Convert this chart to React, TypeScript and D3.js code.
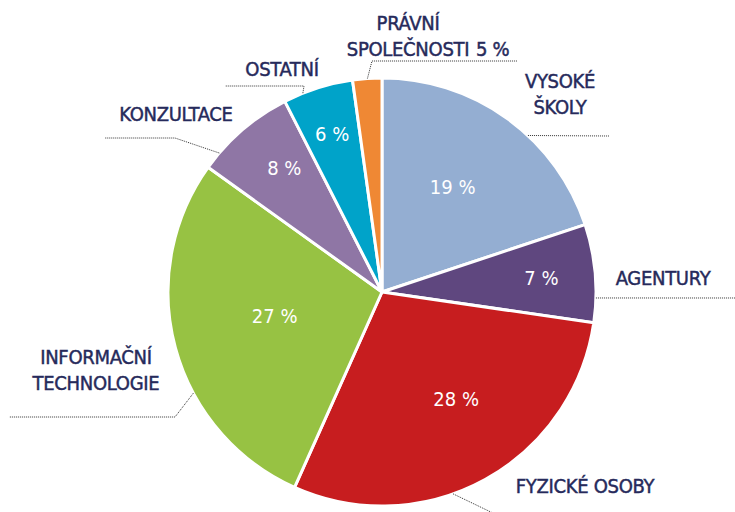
import React from "react";
import * as d3 from "d3";

const categories = ["VYSOKÉ ŠKOLY", "AGENTURY", "FYZICKÉ OSOBY", "INFORMAČNÍ TECHNOLOGIE", "KONZULTACE", "OSTATNÍ", "PRÁVNÍ SPOLEČNOSTI"];
const values = [19.9, 7.4, 29.4, 28.2, 7.6, 5.3, 2.2];
const percentLabels = ["19 %", "7 %", "28 %", "27 %", "8 %", "6 %", "5 %"];
const colors = ["#94aed2", "#5f477f", "#c71d1f", "#97c243", "#8f76a5", "#00a3c9", "#ef8834"];

const W = 735, H = 512;
const cx = 382, cy = 292, R = 214;
const FONT = "'Liberation Sans Narrow', 'DejaVu Sans Condensed', 'Roboto', sans-serif";
const NAVY = "#262a5b";

// inner % label placement: [radius, angle offset deg]
const inLabel: [number, number][] = [[127, -2], [160, 0], [130, -6], [110, 2.5], [158, 2.5], [166, 0], [0, 0]];

// outer labels: lines of text, anchor x, first baseline y
const outer = [
  { lines: ["VYSOKÉ", "ŠKOLY"], x: 560, y: 88 },
  { lines: ["AGENTURY"], x: 663, y: 285 },
  { lines: ["FYZICKÉ OSOBY"], x: 585, y: 493 },
  { lines: ["INFORMAČNÍ", "TECHNOLOGIE"], x: 96, y: 364 },
  { lines: ["KONZULTACE"], x: 176, y: 121 },
  { lines: ["OSTATNÍ"], x: 282, y: 76 },
  { lines: ["PRÁVNÍ", "SPOLEČNOSTI"], x: 408, y: 30 },
];
// leaders: edge angle (deg), then elbow points
const leaders: { a: number; pts: [number, number][] }[] = [
  { a: 43, pts: [[609, 136]] },
  { a: 91.6, pts: [[735, 298]] },
  { a: 160.6, pts: [[497, 515]] },
  { a: 241.8, pts: [[175, 417], [9, 417]] },
  { a: 310.5, pts: [[175, 138], [105, 138]] },
  { a: 338.3, pts: [[304, 86], [225, 86]] },
  { a: 356.1, pts: [[372, 61], [517, 61]] },
];

export default function App() {
  const pie = d3.pie<number>().sort(null).value((d) => d);
  const arcs = pie(values);
  const arc = d3.arc<d3.PieArcDatum<number>>().innerRadius(0).outerRadius(R);
  const rad = (deg: number) => (deg * Math.PI) / 180;
  const edge = (deg: number): [number, number] => [cx + R * Math.sin(rad(deg)), cy - R * Math.cos(rad(deg))];
  const line = d3.line();

  return (
    <svg width={W} height={H} style={{ position: "absolute", left: 0, top: 0 }}>
      <rect width={W} height={H} fill="#fff" />
      <g transform={`translate(${cx},${cy})`}>
        {arcs.map((a, i) => (
          <path key={i} d={arc(a) || ""} fill={colors[i]} stroke="#fff" strokeWidth={3} strokeLinejoin="round" />
        ))}
        {arcs.map((a, i) => {
          if (i === 6) return null;
          const [r, off] = inLabel[i];
          const ang = (a.startAngle + a.endAngle) / 2 + rad(off);
          return (
            <text key={i} x={r * Math.sin(ang)} y={-r * Math.cos(ang)} dy="0.36em" textAnchor="middle"
              fill="#fff" fontFamily={FONT} fontSize={20}>
              {percentLabels[i]}
            </text>
          );
        })}
      </g>
      {leaders.map((l, i) => (
        <path key={i} d={line([edge(l.a), ...l.pts]) || ""} fill="none" stroke="#333" strokeWidth={1} strokeDasharray="1,1" />
      ))}
      {outer.map((o, i) => (
        <text key={i} fill={NAVY} stroke={NAVY} strokeWidth={0.45} fontFamily={FONT} fontSize={20}
          letterSpacing={-0.3} textAnchor="middle">
          {o.lines.map((ln, j) => (
            <tspan key={j} x={o.x} y={o.y + j * 26}>{ln}</tspan>
          ))}
        </text>
      ))}
      <text x={476} y={56} fill={NAVY} stroke={NAVY} strokeWidth={0.45} fontFamily={FONT} fontSize={20}
        letterSpacing={-0.3}>{percentLabels[6]}</text>
    </svg>
  );
}
